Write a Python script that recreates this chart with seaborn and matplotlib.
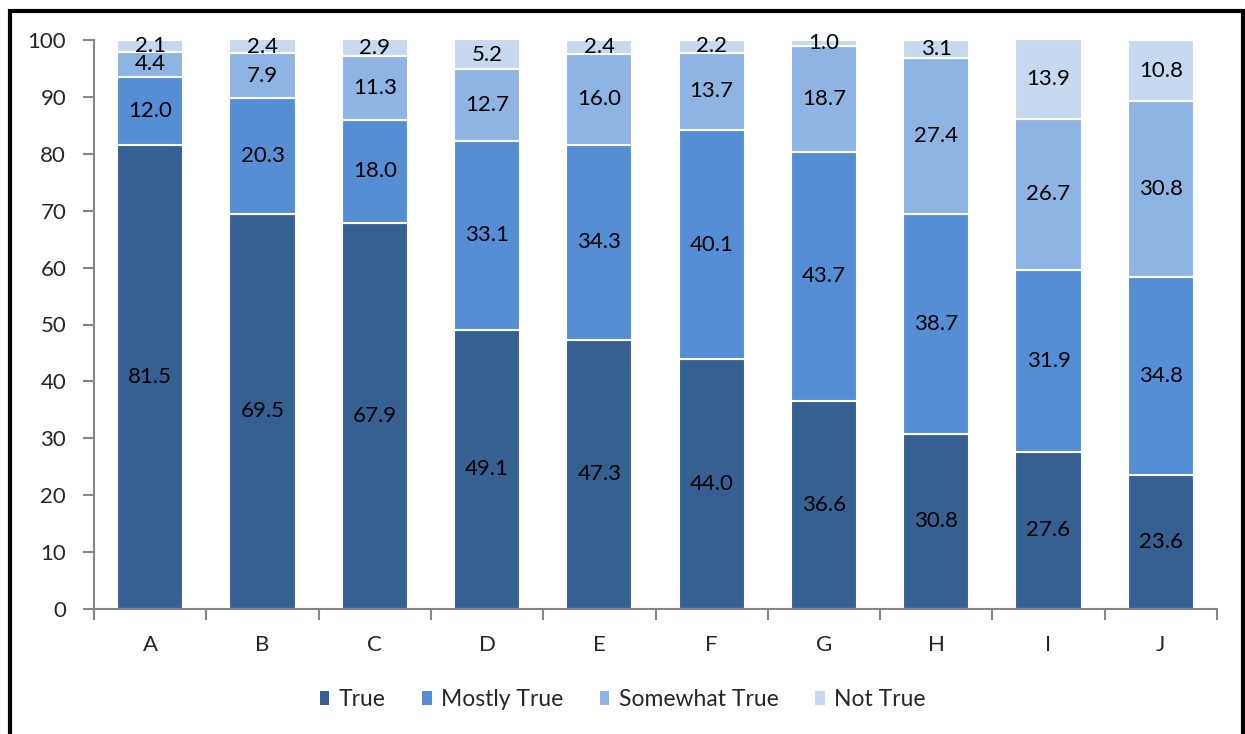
import numpy as np
import pandas as pd
import seaborn as sns
import matplotlib
matplotlib.use('Agg')
import matplotlib.pyplot as plt
from matplotlib.patches import Rectangle, Patch

categories = ['A', 'B', 'C', 'D', 'E', 'F', 'G', 'H', 'I', 'J']
series_names = ['True', 'Mostly True', 'Somewhat True', 'Not True']
true_vals = [81.5, 69.5, 67.9, 49.1, 47.3, 44.0, 36.6, 30.8, 27.6, 23.6]
mostly_true = [12.0, 20.3, 18.0, 33.1, 34.3, 40.1, 43.7, 38.7, 31.9, 34.8]
somewhat_true = [4.4, 7.9, 11.3, 12.7, 16.0, 13.7, 18.7, 27.4, 26.7, 30.8]
not_true = [2.1, 2.4, 2.9, 5.2, 2.4, 2.2, 1.0, 3.1, 13.9, 10.8]
colors = ['#376092', '#558ED5', '#8EB4E3', '#C6D9F1']

sns.set_style('white')
plt.rcParams['font.family'] = ['Lato', 'DejaVu Sans']

df = pd.DataFrame({'cat': categories,
                   'True': true_vals,
                   'Mostly True': mostly_true,
                   'Somewhat True': somewhat_true,
                   'Not True': not_true})

fig = plt.figure(figsize=(12.45, 7.34), dpi=100)
ax = fig.add_axes([94 / 1245, 1 - 609 / 734, (1217 - 94) / 1245, (609 - 40) / 734])

# stacked bars: draw each series on top of the previous ones
bottom = np.zeros(len(categories))
for name, col in zip(series_names, colors):
  vals = df[name].values
  sns.barplot(x=df['cat'], y=vals, bottom=bottom, color=col, width=0.59,
              edgecolor='white', linewidth=1.5, ax=ax, saturation=1)
  for i, v in enumerate(vals):
    top = min(bottom[i] + v, 100)
    yc = (bottom[i] + top) / 2
    ax.text(i, yc, '{:.1f}'.format(v), ha='center', va='center',
            fontsize=16, color='black')
  bottom = bottom + vals

ax.set_ylim(0, 100)
ax.set_xlim(-0.5, len(categories) - 0.5)
ax.set_yticks(np.arange(0, 101, 10))
ax.set_xticks(np.arange(len(categories)))
ax.set_xticklabels(categories)
ax.set_xlabel('')
ax.set_ylabel('')

sns.despine(ax=ax, top=True, right=True)
for s in ['left', 'bottom']:
  ax.spines[s].set_color('#868686')
  ax.spines[s].set_linewidth(1.5)

# x ticks sit between categories
ax.set_xticks(np.arange(-0.5, len(categories)), minor=True)
ax.tick_params(axis='x', which='major', length=0, pad=19, labelsize=16)
ax.tick_params(axis='x', which='minor', length=8, width=1.5, color='#868686', direction='out')
ax.tick_params(axis='y', length=8, width=1.5, color='#868686', direction='out', pad=12, labelsize=16)
ax.tick_params(bottom=True, left=True, which='both')
ax.tick_params(axis='x', which='major', bottom=False)

handles = [Patch(facecolor=c, edgecolor='none') for c in colors]
fig.legend(handles, series_names, loc='center', bbox_to_anchor=(0.5, 1 - 700 / 734),
           ncol=4, frameon=False, fontsize=16.5, handlelength=0.42, handleheight=0.55,
           handletextpad=0.4, columnspacing=1.6)

# black frame around the chart area
fig.patches.append(Rectangle((9.5 / 1245, -0.05), (1243 - 9.5) / 1245, 1.05 - 11 / 734,
                             transform=fig.transFigure, fill=False,
                             edgecolor='black', linewidth=3, zorder=10))

fig.savefig('out.png', dpi=100)
